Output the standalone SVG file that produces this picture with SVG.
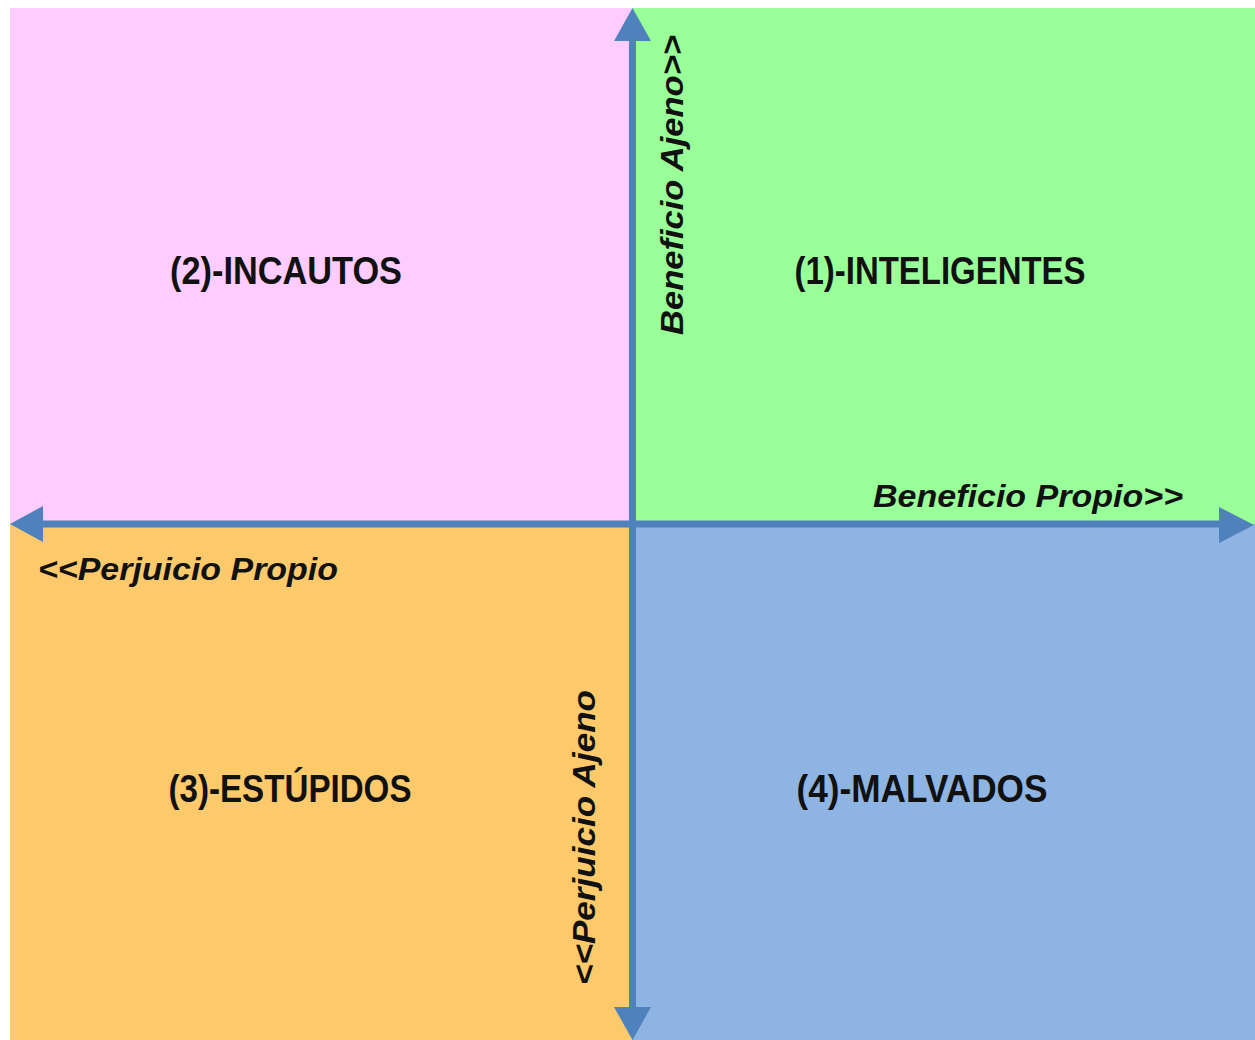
<svg xmlns="http://www.w3.org/2000/svg" width="1255" height="1040" viewBox="0 0 1255 1040">
<style>
.q{font-family:"Liberation Sans",Arial,sans-serif;font-weight:bold;font-size:38px;fill:#111;text-anchor:middle}
.ax{font-family:"Liberation Sans",Arial,sans-serif;font-weight:bold;font-style:italic;font-size:31px;fill:#111}
.shaft{stroke:#4F81BD;stroke-width:7;fill:none}
.head{fill:#4F81BD}
</style>
<rect width="1255" height="1040" fill="#ffffff"/>
<g id="q2"><rect x="10" y="8" width="622" height="516" fill="#FFCCFF"/><text class="q" x="286" y="284" textLength="232" lengthAdjust="spacingAndGlyphs">(2)-INCAUTOS</text></g>
<g id="q1"><rect x="632" y="8" width="623" height="516" fill="#99FF99"/><text class="q" x="940" y="284" textLength="291" lengthAdjust="spacingAndGlyphs">(1)-INTELIGENTES</text></g>
<g id="q3"><rect x="10" y="524" width="622" height="516" fill="#FCCA6A"/><text class="q" x="290" y="802" textLength="243" lengthAdjust="spacingAndGlyphs">(3)-ESTÚPIDOS</text></g>
<g id="q4"><rect x="632" y="524" width="623" height="516" fill="#8DB4E2"/><text class="q" x="922" y="802" textLength="251" lengthAdjust="spacingAndGlyphs">(4)-MALVADOS</text></g>
<g id="connectors">
<line class="shaft" x1="632.5" y1="36" x2="632.5" y2="1010"/>
<line class="shaft" x1="40" y1="524" x2="1222" y2="524"/>
<polygon class="head" points="632.5,8 614,41 651,41"/>
<polygon class="head" points="632.5,1040 614,1007 651,1007"/>
<polygon class="head" points="10,524 43,506 43,542"/>
<polygon class="head" points="1254,525 1219,507 1219,543"/>
</g>
<g id="labels">
<text class="ax" x="873" y="507" textLength="310" lengthAdjust="spacingAndGlyphs">Beneficio Propio&gt;&gt;</text>
<text class="ax" x="38" y="580" textLength="300" lengthAdjust="spacingAndGlyphs">&lt;&lt;Perjuicio Propio</text>
<text class="ax" transform="translate(683,335) rotate(-90)" textLength="300" lengthAdjust="spacingAndGlyphs">Beneficio Ajeno&gt;&gt;</text>
<text class="ax" transform="translate(595,985) rotate(-90)" textLength="295" lengthAdjust="spacingAndGlyphs">&lt;&lt;Perjuicio Ajeno</text>
</g>
</svg>
